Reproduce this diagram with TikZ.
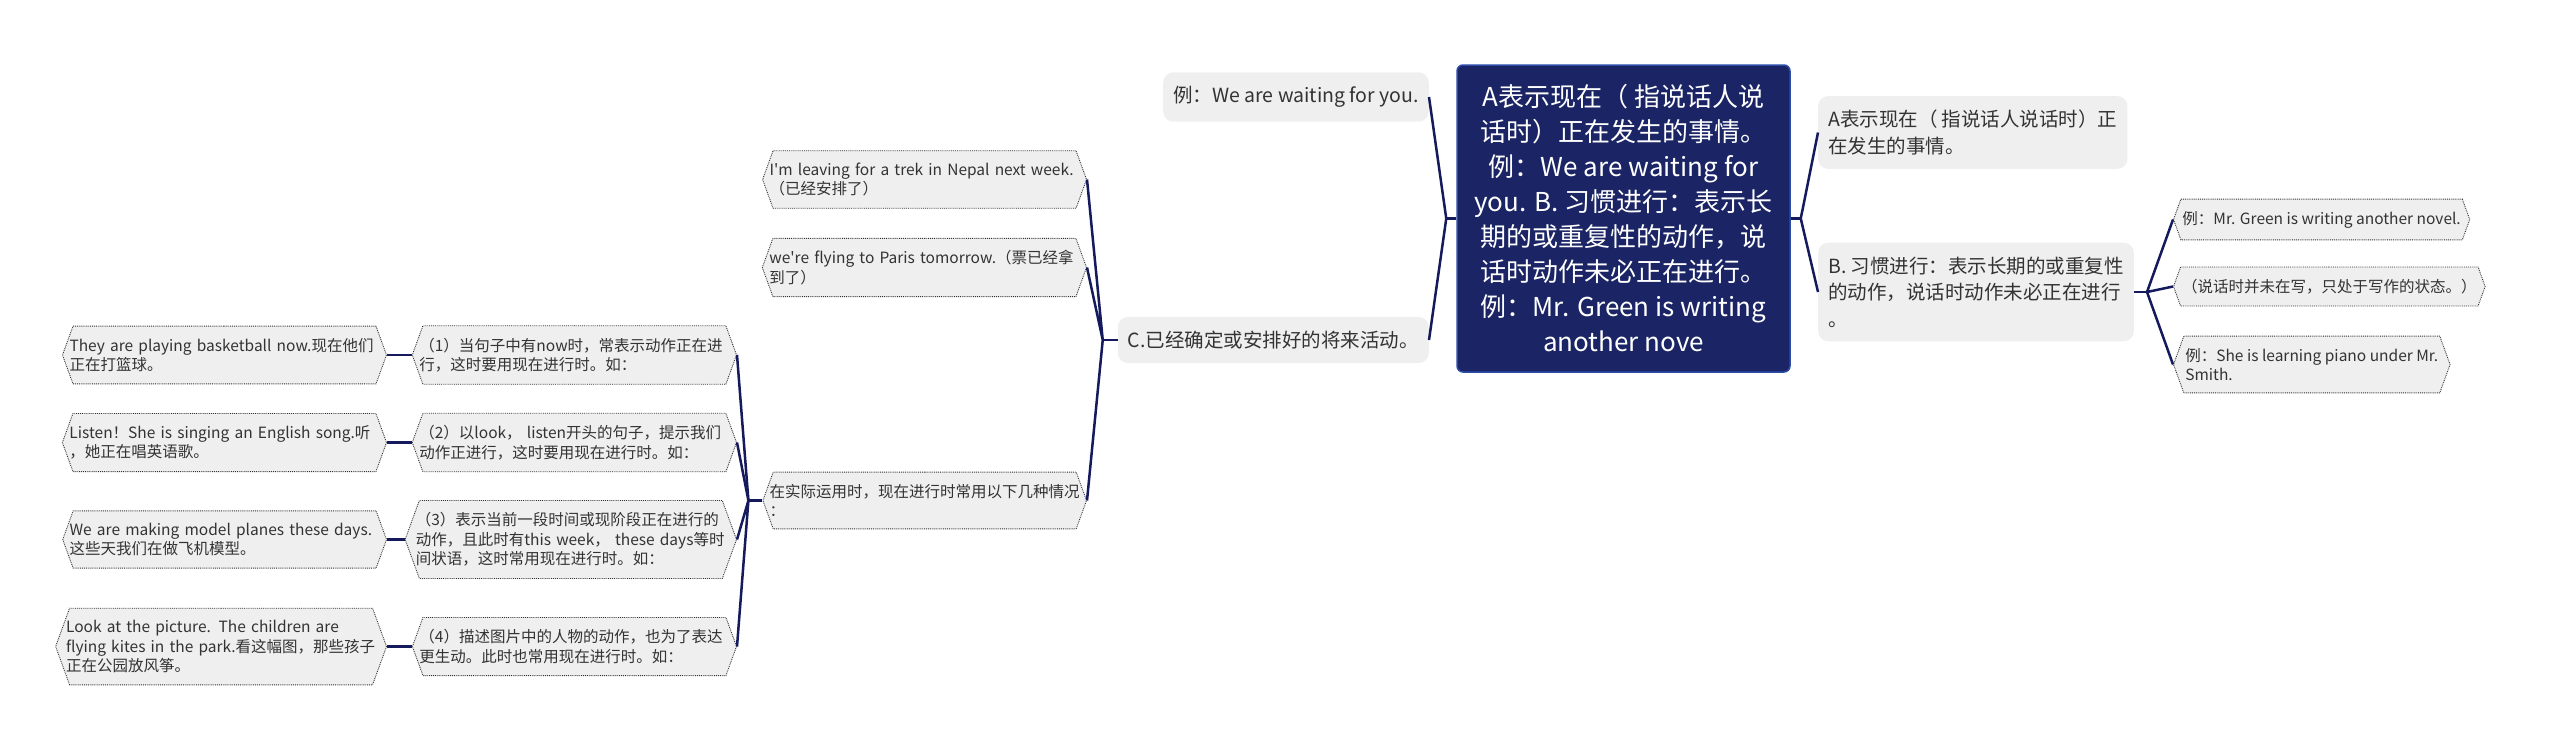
\documentclass[tikz,border=0pt]{standalone}
\usepackage{fontspec}
\setmainfont{Noto Sans CJK SC}[Ligatures=TeXOff]
\usepackage{tikz}
\usetikzlibrary{shapes.symbols}
\definecolor{navy}{HTML}{1B2565}
\definecolor{navyline}{HTML}{141A5C}
\definecolor{rootedge}{HTML}{2B4BA8}
\definecolor{boxgray}{HTML}{EFEFEF}
\definecolor{txt}{HTML}{333333}

\begin{document}
\begin{tikzpicture}[x=1pt, y=-1pt,
    root/.style={draw=rootedge, line width=1.5pt, fill=navy, text=white, rounded corners=6pt,
        minimum width=333pt, minimum height=307pt, align=center, font=\fontsize{26}{35}\selectfont},
    topic/.style={fill=boxgray, text=txt, rounded corners=10pt, inner xsep=10pt, inner ysep=14pt,
        align=left, font=\fontsize{19.5}{26.5}\selectfont},
    leaf/.style={signal, signal to=east and west, signal pointer angle=140, draw=txt, densely dotted,
        line width=0.9pt, fill=boxgray, text=txt, inner xsep=1.5pt, inner ysep=12pt,
        align=left, font=\fontsize{15.5}{19.5}\selectfont},
    wideleaf/.style={leaf, text width=310pt, inner xsep=-3.5pt},
    link/.style={draw=navyline, line width=2.5pt},
    rootlink/.style={draw=navyline, line width=3.5pt}]
    \useasboundingbox (0, 0) rectangle (2560, 750);

    \node[root] (r) at (1623.5, 218.5) {A表示现在（ 指说话人说\\话时）正在发生的事情。\\例：We are waiting for\\you. B. 习惯进行：表示长\\期的或重复性的动作，说\\话时动作未必正在进行。\\例：Mr. Green is writing\\another nove};

    \node[topic, anchor=east] (w) at (1429, 97) {例：We are waiting for you.};
    \node[topic, anchor=east] (c) at (1429, 340) {C.已经确定或安排好的将来活动。};
    \node[topic, anchor=west] (a) at (1818, 132.5) {A表示现在（ 指说话人说话时）正\\在发生的事情。};
    \node[topic, anchor=west] (b) at (1818, 292) {B. 习惯进行：表示长期的或重复性\\的动作，说话时动作未必正在进行\\。};

    \node[leaf, anchor=west] (b1) at (2173, 219.5) {例：Mr. Green is writing another novel.};
    \node[leaf, anchor=west] (b2) at (2173, 286.5) {（说话时并未在写，只处于写作的状态。）};
    \node[leaf, anchor=west] (b3) at (2173, 364.5) {例：She is learning piano under Mr.\\Smith.};

    \node[wideleaf, anchor=east] (c1) at (1087, 179.5) {I'm leaving for a trek in Nepal next week.\\（已经安排了）};
    \node[wideleaf, anchor=east] (c2) at (1087, 267.5) {we're flying to Paris tomorrow.（票已经拿\\到了）};
    \node[wideleaf, anchor=east] (c3) at (1087, 500.5) {在实际运用时，现在进行时常用以下几种情况\\：};

    \node[wideleaf, anchor=east] (p1) at (737, 355) {（1）当句子中有now时，常表示动作正在进\\行，这时要用现在进行时。如：};
    \node[wideleaf, anchor=east] (p2) at (737, 442.5) {（2）以look， listen开头的句子，提示我们\\动作正进行，这时要用现在进行时。如：};
    \node[wideleaf, anchor=east] (p3) at (737, 539.5) {（3）表示当前一段时间或现阶段正在进行的\\动作，且此时有this week， these days等时\\间状语，这时常用现在进行时。如：};
    \node[wideleaf, anchor=east] (p4) at (737, 646.5) {（4）描述图片中的人物的动作，也为了表达\\更生动。此时也常用现在进行时。如：};

    \node[wideleaf, anchor=east] (l1) at (387, 355) {They are playing basketball now.现在他们\\正在打篮球。};
    \node[wideleaf, anchor=east] (l2) at (387, 442.5) {Listen！She is singing an English song.听\\，她正在唱英语歌。};
    \node[wideleaf, anchor=east] (l3) at (387, 539.5) {We are making model planes these days.\\这些天我们在做飞机模型。};
    \node[wideleaf, anchor=east] (l4) at (387, 646.5) {Look at the picture. The children are\\flying kites in the park.看这幅图，那些孩子\\正在公园放风筝。};

    \draw[rootlink] (r.west) -- ++(-10, 0) coordinate (rl);
    \draw[rootlink] (r.east) -- ++(10, 0) coordinate (rr);
    \draw[link] (rl) -- (w.east) (rl) -- (c.east);
    \draw[link] (rr) -- (a.west) (rr) -- (b.west);

    \draw[link] (c.west) -- ++(-15, 0) coordinate (cj);
    \draw[link] (cj) -- (c1.east) (cj) -- (c2.east) (cj) -- (c3.east);

    \draw[link] (b.east) -- ++(13, 0) coordinate (bj);
    \draw[link] (bj) -- (b1.west) (bj) -- (b2.west) (bj) -- (b3.west);

    \draw[link] (c3.west) -- ++(-14, 0) coordinate (pj);
    \foreach \n in {1,...,4} {
        \draw[link] (pj) -- (p\n.east);
        \draw[link] (p\n.west) -- (l\n.east);
    }
\end{tikzpicture}
\end{document}
